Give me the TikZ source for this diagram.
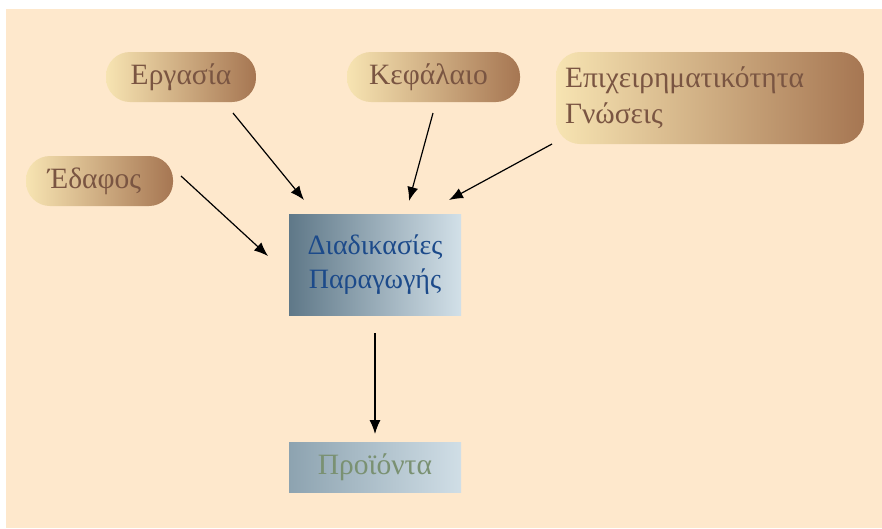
\documentclass[tikz,border=0pt]{standalone}
\usepackage{fontspec}
\setmainfont{Liberation Serif}
\usetikzlibrary{arrows.meta}
\definecolor{bg}{HTML}{FEE8CC}
\definecolor{pillL}{HTML}{F7E4B2}
\definecolor{pillR}{HTML}{A67652}
\definecolor{pillT}{HTML}{7A5542}
\definecolor{procL}{HTML}{5F7888}
\definecolor{procR}{HTML}{D2E0E8}
\definecolor{procT}{HTML}{1C4A8A}
\definecolor{prodL}{HTML}{8DA3B0}
\definecolor{prodR}{HTML}{D0DEE6}
\definecolor{prodT}{HTML}{7A9172}
\tikzset{
  x=1pt,y=-1pt,
  pill/.style={rounded corners=24pt,left color=pillL,right color=pillR,text=pillT,
    inner sep=0pt,font=\fontsize{29.5}{36}\selectfont},
  procbox/.style={left color=procL,right color=procR,text=procT,inner sep=0pt,
    font=\fontsize{28}{34}\selectfont,align=center},
  prodbox/.style={left color=prodL,right color=prodR,text=prodT,inner sep=0pt,
    font=\fontsize{29.5}{34}\selectfont},
  arr/.style={-{Latex[length=14pt,width=11pt]},line width=1.2pt,black}
}
\begin{document}
\begin{tikzpicture}
\useasboundingbox (0,0) rectangle (882,528);
\fill[white] (0,0) rectangle (882,528);
\fill[bg] (6,9) rectangle (882,528);
\node[pill,minimum width=150pt,minimum height=50pt] (erg) at (181,77) {Εργασία};
\node[pill,minimum width=173pt,minimum height=50pt] (kef) at (433.5,77) {\hspace*{-10pt}Κεφάλαιο};
\node[pill,minimum width=308pt,minimum height=92pt,align=left,text width=290pt] (epi) at (710,98) {Επιχειρηματικότητα\\Γνώσεις};
\node[pill,minimum width=147pt,minimum height=50pt] (eda) at (99.5,181) {\hspace*{-10pt}Έδαφος};
\node[procbox,minimum width=172pt,minimum height=101pt] (proc) at (375,264.5) {\raisebox{-2pt}{Διαδικασίες}\\\raisebox{-2pt}{Παραγωγής}};
\node[prodbox,minimum width=172pt,minimum height=50pt] (prod) at (375,467) {Προϊόντα};
\coordinate (a1) at (233,113); \coordinate (b1) at (304,200);
\coordinate (a2) at (433,113); \coordinate (b2) at (409,201);
\coordinate (a3) at (552,144); \coordinate (b3) at (449,200);
\coordinate (a4) at (181,176); \coordinate (b4) at (268,256);
\coordinate (a5) at (375,333); \coordinate (b5) at (375,434);
\draw[arr] (a1) -- (b1);
\draw[arr] (a2) -- (b2);
\draw[arr] (a3) -- (b3);
\draw[arr] (a4) -- (b4);
\draw[arr] (a5) -- (b5);
\end{tikzpicture}
\end{document}
